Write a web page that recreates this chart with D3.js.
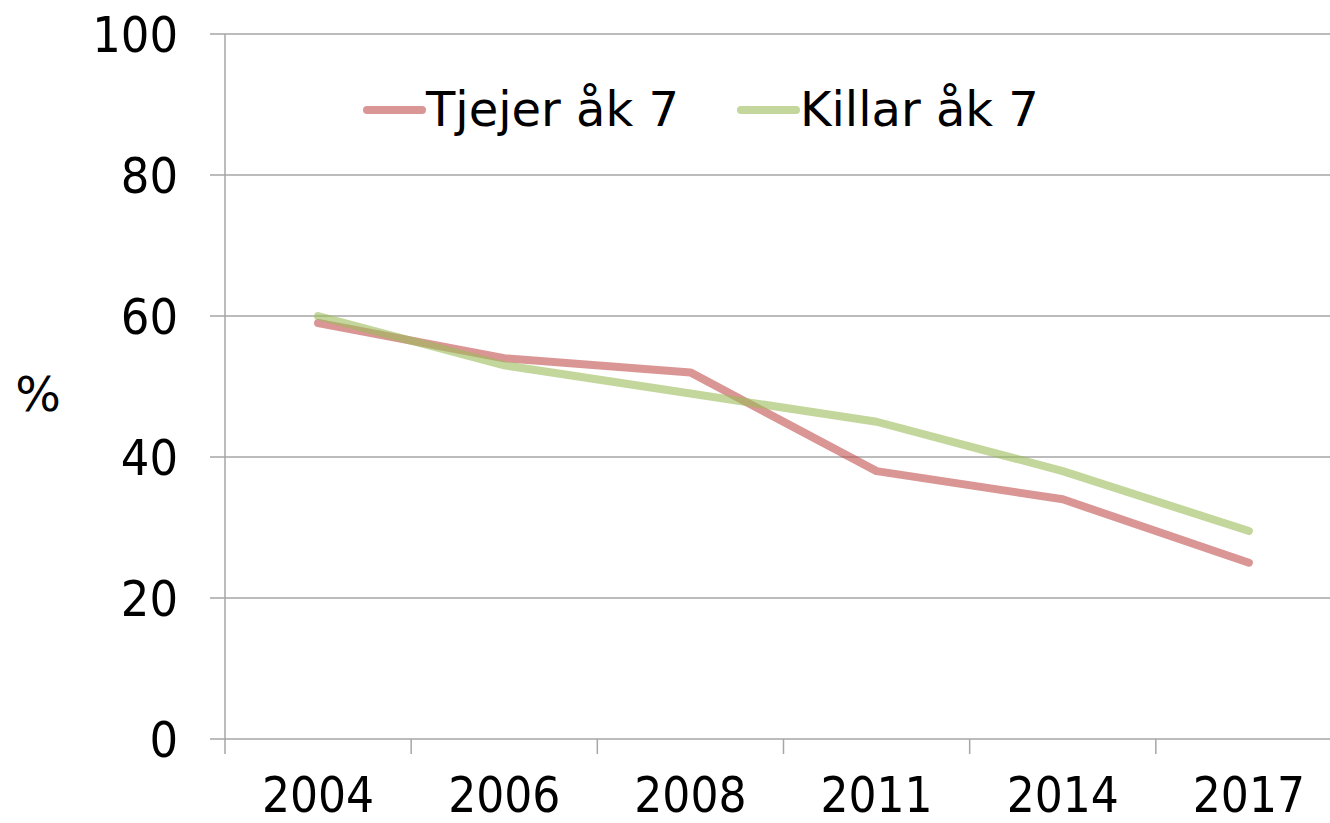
<!DOCTYPE html>
<html><head><meta charset="utf-8">
<script src="https://cdn.jsdelivr.net/npm/d3@7"></script>
<style>html,body{margin:0;padding:0;background:#fff;}text{font-family:"DejaVu Sans Condensed","DejaVu Sans",Verdana,sans-serif;fill:#000;}text.wide{font-family:"DejaVu Sans",Verdana,sans-serif;}</style>
</head><body>
<svg id="c" width="1330" height="823"></svg>
<script>
const years = ["2004","2006","2008","2011","2014","2017"];
const tjejer = [59, 54, 52, 38, 34, 25];
const killar = [60, 53, 49, 45, 38, 29.5];
const yTicks = [0, 20, 40, 60, 80, 100];
const seriesNames = ["Tjejer åk 7", "Killar åk 7"];
const seriesColors = ["#C0504D", "#9BBB59"];

(function () {
const svg = d3.select("#c");
const mLeft = 225, mRight = 1342, mTop = 34, mBottom = 739;
const x = d3.scaleBand().domain(years).range([mLeft, mRight]);
const y = d3.scaleLinear().domain([0, 100]).range([mBottom, mTop]);
const grid = "#a6a6a6";

svg.append("g").selectAll("line").data(yTicks).join("line")
  .attr("x1", 210).attr("x2", 1330)
  .attr("y1", d => y(d)).attr("y2", d => y(d))
  .attr("stroke", grid).attr("stroke-width", 1.5);
svg.append("line").attr("x1", mLeft).attr("x2", mLeft).attr("y1", mTop).attr("y2", mBottom + 15)
  .attr("stroke", grid).attr("stroke-width", 1.5);
const xt = years.map(d => x(d)).slice(1);
svg.append("g").selectAll("line").data(xt).join("line")
  .attr("x1", d => d).attr("x2", d => d).attr("y1", mBottom).attr("y2", mBottom + 15)
  .attr("stroke", grid).attr("stroke-width", 1.5);

svg.append("g").selectAll("text").data(yTicks).join("text")
  .attr("x", 178).attr("y", d => y(d)).attr("dy", "0.36em")
  .attr("text-anchor", "end").attr("font-size", 50).text(d => d);
svg.append("g").selectAll("text").data(years).join("text")
  .attr("x", d => x(d) + x.bandwidth() / 2).attr("y", 812)
  .attr("text-anchor", "middle").attr("font-size", 49).text(d => d);
svg.append("text").attr("class", "wide").attr("x", 38).attr("y", 411)
  .attr("text-anchor", "middle").attr("font-size", 48).text("%");

const line = d3.line().x((d, i) => x(years[i]) + x.bandwidth() / 2).y(d => y(d));
[tjejer, killar].forEach((s, i) => {
  svg.append("path").datum(s).attr("d", line)
    .attr("fill", "none").attr("stroke", seriesColors[i]).attr("stroke-opacity", 0.6)
    .attr("stroke-width", 8).attr("stroke-linejoin", "round").attr("stroke-linecap", "round");
});

const legX = [367, 741];
seriesNames.forEach((n, i) => {
  svg.append("line").attr("x1", legX[i]).attr("x2", legX[i] + 55).attr("y1", 110).attr("y2", 110)
    .attr("stroke", seriesColors[i]).attr("stroke-opacity", 0.6).attr("stroke-width", 8).attr("stroke-linecap", "round");
  svg.append("text").attr("class", "wide").attr("x", legX[i] + 59).attr("y", 126)
    .attr("font-size", 48).text(n);
});
})();
</script>
</body></html>
